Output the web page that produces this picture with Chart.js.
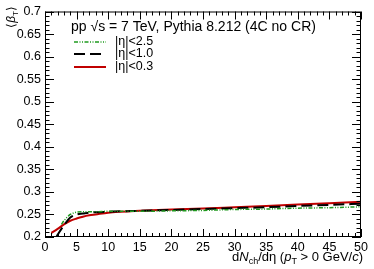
<!DOCTYPE html>
<html>
<head>
<meta charset="utf-8">
<script src="https://cdn.jsdelivr.net/npm/chart.js@4"></script>
<style>
  html, body { margin: 0; padding: 0; background: #fff; }
  #wrap { width: 374px; height: 269px; }
</style>
</head>
<body>
<div id="wrap"><canvas id="c" width="374" height="269"></canvas></div>
<script>
// values
const eta03X = [1, 2, 3, 4, 5, 6, 7, 8, 10, 12, 15, 20, 25, 30, 35, 40, 45, 50];
const eta03Y = [0.209, 0.218, 0.228, 0.236, 0.241, 0.245, 0.248, 0.250, 0.254, 0.256, 0.258, 0.261, 0.263, 0.266, 0.269, 0.272, 0.275, 0.278];

const eta10X = [1.8, 2, 3, 4, 5, 6, 7, 8, 10, 12, 15, 20, 25, 30, 35, 40, 45, 50];
const eta10Y = [0.200, 0.205, 0.226, 0.243, 0.250, 0.252, 0.254, 0.255, 0.256, 0.257, 0.258, 0.260, 0.262, 0.264, 0.266, 0.269, 0.271, 0.274];

const eta25X = [2.6, 3, 4, 5, 6, 7, 8, 10, 12, 15, 20, 25, 30, 35, 40, 45, 50];
const eta25Y = [0.228, 0.236, 0.250, 0.255, 0.256, 0.256, 0.256, 0.257, 0.257, 0.257, 0.258, 0.259, 0.261, 0.262, 0.264, 0.265, 0.267];

const xMin = 0, xMax = 50, xStep = 5, xMinor = 1;
const yMin = 0.2, yMax = 0.7, yStep = 0.05, yMinor = 0.01;

const FONT = '"Liberation Sans", Arial, Helvetica, sans-serif';
const GREEN = '#1f9a1f';
const RED = '#c00000';

function pts(xs, ys) { return xs.map((x, i) => ({ x: x, y: ys[i] })); }

// draw text pieces one after another
function runsWidth(ctx, runs) {
  let total = 0;
  runs.forEach(r => { ctx.font = r.f; r.w = ctx.measureText(r.t).width; total += r.w; });
  return total;
}
function drawRuns(ctx, runs, x, y) {
  runs.forEach(r => { ctx.font = r.f; ctx.fillText(r.t, x, y + r.dy); x += r.w; });
}

// inward ROOT-style ticks, frame, titles and legend
const rootStyle = {
  id: 'rootStyle',
  afterDraw(chart) {
    const ctx = chart.ctx;
    const a = chart.chartArea;
    const xs = chart.scales.x, ys = chart.scales.y;
    ctx.save();
    ctx.strokeStyle = '#000';
    ctx.lineWidth = 1;
    ctx.strokeRect(a.left + 0.5, a.top + 0.5, a.right - a.left - 1, a.bottom - a.top - 1);

    ctx.beginPath();
    for (let v = xMin; v <= xMax + 1e-9; v += xMinor) {
      const px = Math.round(xs.getPixelForValue(v)) + 0.5;
      const major = Math.abs(v / xStep - Math.round(v / xStep)) < 1e-6;
      const len = major ? 8 : 4;
      ctx.moveTo(px, a.bottom); ctx.lineTo(px, a.bottom - len);
      ctx.moveTo(px, a.top); ctx.lineTo(px, a.top + len);
    }
    for (let k = 0; k <= Math.round((yMax - yMin) / yMinor); k++) {
      const v = yMin + k * yMinor;
      const py = Math.round(ys.getPixelForValue(v)) + 0.5;
      const len = k % 5 === 0 ? 9 : 4.5;
      ctx.moveTo(a.left, py); ctx.lineTo(a.left + len, py);
      ctx.moveTo(a.right, py); ctx.lineTo(a.right - len, py);
    }
    ctx.stroke();

    ctx.fillStyle = '#000';
    ctx.textBaseline = 'alphabetic';
    ctx.textAlign = 'left';

    // x title, right aligned
    const xt = [
      { t: 'd', f: '13px ' + FONT, dy: 0 },
      { t: 'N', f: 'italic 13px ' + FONT, dy: 0 },
      { t: 'ch', f: '9px ' + FONT, dy: 3 },
      { t: '/d\u03B7 (', f: '13px ' + FONT, dy: 0 },
      { t: 'p', f: 'italic 13px ' + FONT, dy: 0 },
      { t: 'T', f: '9px ' + FONT, dy: 3 },
      { t: ' > 0 GeV/', f: '13px ' + FONT, dy: 0 },
      { t: 'c', f: 'italic 13px ' + FONT, dy: 0 },
      { t: ')', f: '13px ' + FONT, dy: 0 }
    ];
    drawRuns(ctx, xt, a.right + 2 - runsWidth(ctx, xt), 261);

    // y title, rotated, top aligned
    ctx.save();
    ctx.translate(15, 6);
    ctx.rotate(-Math.PI / 2);
    const yt = [
      { t: '\u27E8', f: '12px ' + FONT, dy: 0 },
      { t: '\u03B2', f: 'italic 12px ' + FONT, dy: 0 },
      { t: 'T', f: '8px ' + FONT, dy: 3 },
      { t: '\u27E9', f: '12px ' + FONT, dy: 0 }
    ];
    drawRuns(ctx, yt, -runsWidth(ctx, yt), 0);
    ctx.restore();

    // legend
    ctx.font = '14px ' + FONT;
    ctx.fillText('pp \u221As = 7 TeV, Pythia 8.212 (4C no CR)', 71, 31);
    const items = [
      { label: '|\u03B7|<2.5', color: GREEN, dash: [4, 1.5, 1, 1.5, 1, 1.5], w: 1.5, y: 42 },
      { label: '|\u03B7|<1.0', color: '#000', dash: [11, 5], w: 2, y: 54 },
      { label: '|\u03B7|<0.3', color: RED, dash: [], w: 2, y: 67 }
    ];
    items.forEach(it => {
      ctx.beginPath();
      ctx.strokeStyle = it.color;
      ctx.lineWidth = it.w;
      ctx.setLineDash(it.dash);
      ctx.moveTo(74, it.y); ctx.lineTo(106, it.y);
      ctx.stroke();
      ctx.setLineDash([]);
      ctx.fillStyle = '#000';
      ctx.textBaseline = 'middle';
      ctx.font = '12.5px ' + FONT;
      ctx.fillText(it.label, 115, it.y);
    });
    ctx.restore();
  }
};

new Chart(document.getElementById('c'), {
  type: 'line',
  data: {
    datasets: [
      { label: '|\u03B7|<2.5', data: pts(eta25X, eta25Y), borderColor: GREEN, borderWidth: 1.5,
        borderDash: [4, 1.5, 1, 1.5, 1, 1.5], pointRadius: 0, fill: false, cubicInterpolationMode: 'monotone' },
      { label: '|\u03B7|<1.0', data: pts(eta10X, eta10Y), borderColor: '#000', borderWidth: 2,
        borderDash: [11, 5], pointRadius: 0, fill: false, cubicInterpolationMode: 'monotone' },
      { label: '|\u03B7|<0.3', data: pts(eta03X, eta03Y), borderColor: RED, borderWidth: 2,
        pointRadius: 0, fill: false, cubicInterpolationMode: 'monotone' }
    ]
  },
  options: {
    responsive: false,
    animation: false,
    events: [],
    layout: { padding: { top: 10, right: 13, left: 0, bottom: 0 } },
    plugins: { legend: { display: false }, tooltip: { enabled: false } },
    scales: {
      x: {
        type: 'linear', min: xMin, max: xMax,
        grid: { display: false, drawTicks: false },
        border: { display: false },
        ticks: { stepSize: xStep, padding: 3, color: '#000', maxRotation: 0,
                 font: { family: FONT, size: 12.5 } },
        afterFit: s => { s.height = 32; }
      },
      y: {
        type: 'linear', min: yMin, max: yMax,
        grid: { display: false, drawTicks: false },
        border: { display: false },
        ticks: { stepSize: yStep, padding: 4, color: '#000',
                 font: { family: FONT, size: 12.5 },
                 callback: v => String(Number(v.toFixed(2))) },
        afterFit: s => { s.width = 45; }
      }
    }
  },
  plugins: [rootStyle]
});
</script>
</body>
</html>
